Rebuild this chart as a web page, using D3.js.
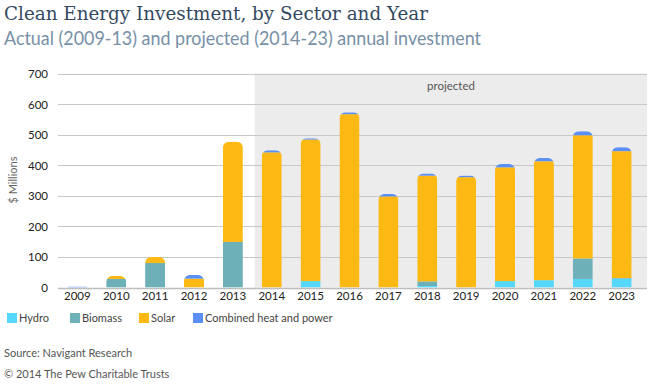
<!DOCTYPE html>
<html><head><meta charset="utf-8">
<script src="https://cdn.jsdelivr.net/npm/d3@7"></script>
<style>body{margin:0;background:#fff}svg{display:block}</style>
</head><body>
<script>
const years = ["2009","2010","2011","2012","2013","2014","2015","2016","2017","2018","2019","2020","2021","2022","2023"];
const hydro   = [0, 0, 0, 0, 0, 0, 21, 0, 0, 5, 0, 21, 24, 28, 29];
const biomass = [0, 28, 80, 0, 149, 0, 0, 0, 0, 15, 0, 0, 0, 67, 2];
const solar   = [0, 10, 20, 29, 328, 442, 463, 567, 298, 346, 361, 372, 389, 403, 415];
const chp     = [3, 0, 0, 12, 0, 7, 4, 6, 8, 7, 5, 11, 11, 13, 13];
const seriesNames = ["Hydro","Biomass","Solar","Combined heat and power"];
const seriesColors = ["#55d8fb","#6db0b8","#fdb913","#5a8ff6"];
const yTicks = [0,100,200,300,400,500,600,700];
const firstProjected = "2014";

const W = 650, H = 388;
const svg = d3.select("body").append("svg").attr("width", W).attr("height", H);

const rows = years.map((y,i)=>({year:y, Hydro:hydro[i], Biomass:biomass[i], Solar:solar[i], "Combined heat and power":chp[i]}));
const stack = d3.stack().keys(seriesNames)(rows);

const x = d3.scaleBand().domain(years).range([58, 641]).paddingInner(0.485).paddingOuter(0.24);
const y = d3.scaleLinear().domain([0,700]).range([287.5, 73.5]);

// shaded projected region
const sx = x(firstProjected) - x.step()*x.paddingInner()/2 + 2.5;
svg.append("rect").attr("x", sx).attr("y", y(700)).attr("width", 647 - sx).attr("height", y(0)-y(700)).attr("fill","#ececec");

// gridlines
svg.append("g").selectAll("line").data(yTicks).join("line")
  .attr("x1",58).attr("x2",647).attr("y1",d=>Math.round(y(d))+0.5).attr("y2",d=>Math.round(y(d))+0.5)
  .attr("stroke",d=>d===0?"#bdbdbd":"#c8c8c8").attr("stroke-width",d=>d===0?1.5:1);

// y axis labels
const yAxis = d3.axisLeft(y).tickValues(yTicks).tickSize(0).tickPadding(0);
const ga = svg.append("g").attr("transform","translate(48,0)").call(yAxis);
ga.select(".domain").remove();
ga.selectAll("text").attr("font-family","Lato, 'Open Sans', sans-serif").attr("font-size",11.5).attr("fill","#222").attr("dy","0.35em");

// x axis labels
const xAxis = d3.axisBottom(x).tickSize(0).tickPadding(0);
const gx = svg.append("g").attr("transform","translate(0,292)").call(xAxis);
gx.select(".domain").remove();
gx.selectAll("text").attr("font-family","Lato, 'Open Sans', sans-serif").attr("font-size",11.5).attr("fill","#222").attr("dy","0.71em");

// clip paths with rounded tops
const r = 6;
const defs = svg.append("defs");
rows.forEach((d,i)=>{
  const total = hydro[i]+biomass[i]+solar[i]+chp[i];
  const x0 = x(d.year), w = x.bandwidth(), yt = y(total), yb = y(0);
  const rr = Math.min(r, (yb-yt), w/2);
  const p = d3.path();
  p.moveTo(x0, yb);
  p.lineTo(x0, yt+rr);
  p.arcTo(x0, yt, x0+rr, yt, rr);
  p.lineTo(x0+w-rr, yt);
  p.arcTo(x0+w, yt, x0+w, yt+rr, rr);
  p.lineTo(x0+w, yb);
  p.closePath();
  defs.append("clipPath").attr("id","clip"+i).append("path").attr("d", p.toString());
});

svg.append("g").selectAll("g").data(stack).join("g")
  .attr("fill",(d,i)=>seriesColors[i])
  .selectAll("rect").data(d=>d).join("rect")
  .attr("clip-path",(d,i)=>`url(#clip${i})`)
  .attr("x",d=>x(d.data.year)).attr("width",x.bandwidth())
  .attr("y",d=>y(d[1])).attr("height",d=>Math.max(0,y(d[0])-y(d[1])));

// projected label
svg.append("text").attr("x",451).attr("y",90).attr("text-anchor","middle")
  .attr("font-family","Lato, 'Open Sans', sans-serif").attr("font-size",11.5).attr("fill","#555").text("projected");

// y title
svg.append("text").attr("transform","translate(17,180) rotate(-90)").attr("text-anchor","middle")
  .attr("font-family","Lato, 'Open Sans', sans-serif").attr("font-size",11).attr("fill","#666").text("$ Millions");

// title & subtitle
const title = svg.append("text").attr("x",4).attr("y",20).attr("font-family","'DejaVu Serif', serif")
  .attr("font-size",19).attr("fill","#34495f").text("Clean Energy Investment, by Sector and Year");
title.attr("textLength",424).attr("lengthAdjust","spacingAndGlyphs");
const sub = svg.append("text").attr("x",4).attr("y",45).attr("font-family","Lato, 'Open Sans', sans-serif")
  .attr("font-weight",400).attr("font-size",18.5).attr("fill","#7890a7").text("Actual (2009-13) and projected (2014-23) annual investment");
sub.attr("textLength",477).attr("lengthAdjust","spacingAndGlyphs");

// legend
const legX = [7, 70, 139, 193];
const lg = svg.append("g").selectAll("g").data(seriesNames).join("g")
  .attr("transform",(d,i)=>`translate(${legX[i]},313)`);
lg.append("rect").attr("width",10).attr("height",10).attr("fill",(d,i)=>seriesColors[i]);
lg.append("text").attr("x",12).attr("y",9).attr("font-family","Lato, 'Open Sans', sans-serif")
  .attr("font-size",11).attr("fill","#444").text(d=>d);

// source
svg.append("text").attr("x",4).attr("y",357).attr("font-family","Lato, 'Open Sans', sans-serif")
  .attr("font-size",11).attr("fill","#555").text("Source: Navigant Research");
svg.append("text").attr("x",4).attr("y",378).attr("font-family","Lato, 'Open Sans', sans-serif")
  .attr("font-size",11).attr("fill","#555").text("© 2014 The Pew Charitable Trusts");
</script>
</body></html>
